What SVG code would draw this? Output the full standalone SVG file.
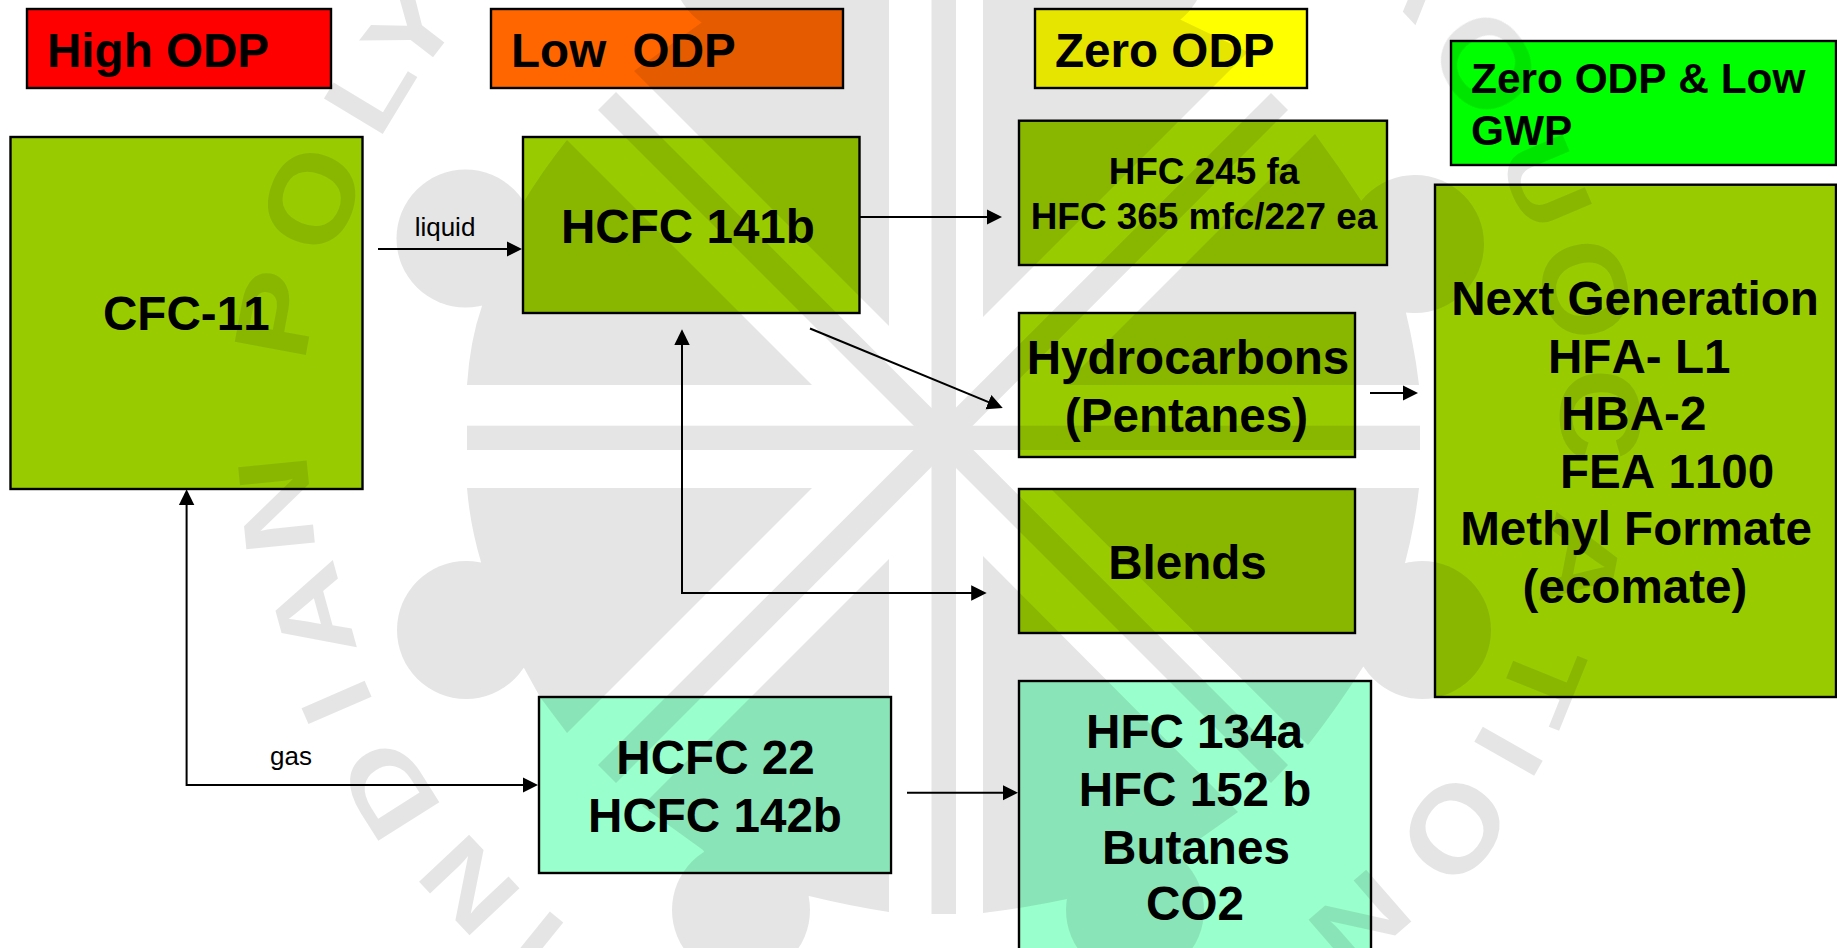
<svg xmlns="http://www.w3.org/2000/svg" width="1837" height="948" viewBox="0 0 1837 948">
<style>
text{font-family:"Liberation Sans",Arial,sans-serif;fill:#000;white-space:pre;font-kerning:none}
.b{font-weight:700;font-size:47.6px}
.m{text-anchor:middle}
.s{font-size:36.9px}
.g{font-size:42.4px}
.l{font-size:26px}
.box{stroke:#000;stroke-width:2.4}
.c{fill:none;stroke:#000;stroke-width:2}
.w text{font-weight:700;font-size:100px;text-anchor:middle;fill:#000}
</style>
<defs>
<marker id="arrow" markerUnits="userSpaceOnUse" markerWidth="16" markerHeight="16" refX="12" refY="8" orient="auto">
<path d="M0,0.3 L15.5,8 L0,15.7 Z" fill="#000"/>
</marker>
</defs>
<rect width="1837" height="948" fill="#fff"/>
<g id="legend-high"><rect class="box" x="27" y="9" width="304" height="79" fill="#ff0000"/><text class="b" x="47" y="66.7">High ODP</text></g>
<g id="legend-low"><rect class="box" x="491" y="9" width="352" height="79" fill="#ff6600"/><text class="b" x="511" y="66.7">Low  ODP</text></g>
<g id="legend-zero"><rect class="box" x="1035" y="9" width="272" height="79" fill="#ffff00"/><text class="b" x="1055" y="66.7">Zero ODP</text></g>
<g id="legend-zero-low-gwp"><rect class="box" x="1451" y="41" width="385" height="124" fill="#00ff00"/><text class="b g" x="1471" y="93">Zero ODP &amp; Low</text><text class="b g" x="1471" y="144.5">GWP</text></g>
<g id="cfc11"><rect class="box" x="10.5" y="137" width="352" height="352" fill="#99cc00"/><text class="b" x="103" y="330">CFC-11</text></g>
<g id="hcfc141b"><rect class="box" x="523" y="137" width="336.500" height="176" fill="#99cc00"/><text class="b" x="561" y="242.700">HCFC 141b</text></g>
<g id="hfc245"><rect class="box" x="1019" y="120.700" width="368" height="144.300" fill="#99cc00"/><text class="b s m" x="1204" y="183.500">HFC 245 fa</text><text class="b s m" x="1204" y="228.500">HFC 365 mfc/227 ea</text></g>
<g id="hydrocarbons"><rect class="box" x="1019" y="313" width="336" height="144" fill="#99cc00"/><text class="b m" x="1188" y="373.500">Hydrocarbons</text><text class="b m" x="1186.500" y="431.700">(Pentanes)</text></g>
<g id="blends"><rect class="box" x="1019" y="489" width="336" height="144" fill="#99cc00"/><text class="b m" x="1187.500" y="578.800">Blends</text></g>
<g id="next-generation"><rect class="box" x="1435" y="184.700" width="401" height="512.300" fill="#99cc00"/><text class="b m" x="1635" y="315">Next Generation</text><text class="b" x="1548" y="372.700">HFA- L1</text><text class="b" x="1561" y="430">HBA-2</text><text class="b" x="1560" y="488.300">FEA 1100</text><text class="b m" x="1636" y="545">Methyl Formate</text><text class="b m" x="1635" y="603">(ecomate)</text></g>
<g id="hcfc22"><rect class="box" x="539" y="697" width="352" height="176" fill="#99ffcc"/><text class="b m" x="715.500" y="774">HCFC 22</text><text class="b m" x="715" y="831.700">HCFC 142b</text></g>
<g id="hfc134a"><rect class="box" x="1019" y="681" width="352" height="280" fill="#99ffcc"/><text class="b m" x="1194.500" y="748.300">HFC 134a</text><text class="b m" x="1195" y="805.500">HFC 152 b</text><text class="b m" x="1196" y="863.800">Butanes</text><text class="b m" x="1195" y="920">CO2</text></g>
<g id="connectors">
<path class="c" marker-end="url(#arrow)" d="M378,249 L518.500,249"/>
<path class="c" marker-end="url(#arrow)" d="M860,217 L998.500,217"/>
<path class="c" marker-end="url(#arrow)" d="M810,328.500 L999.500,406.700"/>
<path class="c" marker-end="url(#arrow)" d="M1370,393 L1414.500,393"/>
<path class="c" marker-end="url(#arrow)" d="M682,340 L682,593 L983.200,593"/>
<path class="c" marker-end="url(#arrow)" d="M186.600,500 L186.600,785 L534.500,785"/>
<path class="c" marker-end="url(#arrow)" d="M907,792.700 L1014.500,792.700"/>
<path d="M682,329.300 L689.700,345 L674.300,345 Z" fill="#000"/>
<path d="M186.600,489.300 L194.300,505 L178.900,505 Z" fill="#000"/>
<text class="l" x="445" y="236" text-anchor="middle">liquid</text>
<text class="l" x="291" y="765" text-anchor="middle">gas</text>
</g>
<g id="watermark" class="w" opacity="0.105">
<circle cx="465.500" cy="238.500" r="69"/><circle cx="466" cy="630" r="69"/><circle cx="1415" cy="244" r="69"/><circle cx="1422" cy="630" r="69"/><circle cx="741" cy="910" r="69"/><circle cx="1135" cy="910" r="69"/><circle cx="741" cy="-34" r="69"/><circle cx="1137" cy="-34" r="69"/>
<path d="M889,-5 L889,326 L634,71 L701,23 L741,-5 Z"/>
<path d="M983,-5 L983,317 L1248,52 L1179,19 L1137,-5 Z"/>
<path d="M467,385 Q470,340 482,306 L465,238 L523,203 Q543,170 567,140 L812,385 Z"/>
<path d="M467,488 L812,488 L567,733 L540,697 L524,668 L466,630 L481,562 Q470,525 467,488 Z"/>
<path d="M1419,385 L1064,385 L1315,134 Q1340,168 1362,202 L1415,244 L1406,313 Q1415,350 1419,385 Z"/>
<path d="M1419,488 L1050,488 L1308,745 Q1337,708 1363,667 L1422,630 L1405,563 Q1415,525 1419,488 Z"/>
<path d="M889,559 L642,806 L703,850 L741,910 L809,896 Q850,906 889,912 Z"/>
<path d="M983,556 L1238,812 L1177,855 L1135,910 L1067,899 Q1025,908 983,913 Z"/>
<rect x="931.500" y="-5" width="24.500" height="919"/>
<rect x="467" y="425.700" width="953" height="24.300"/>
<polygon points="616,92 598,110 1271,783 1288,765"/>
<polygon points="1271,93 1288,110 616,783 598,765"/>
<text transform="translate(534,945) rotate(-141) scale(1.2,1)" y="36">I</text>
<text transform="translate(468,886) rotate(-133.300) scale(1.25,1)" y="36">N</text>
<text transform="translate(387,790) rotate(-122.300) scale(1.3,1.05)" y="36">D</text>
<text transform="translate(335,703) rotate(-113.500) scale(1.2,1)" y="36">I</text>
<text transform="translate(310,613) rotate(-105.400) scale(1.35,1)" y="36">A</text>
<text transform="translate(275,505) rotate(-95.700) scale(1.4,1)" y="36">N</text>
<text transform="translate(275,314) rotate(-79.500) scale(1.3,1.05)" y="36">P</text>
<text transform="translate(310,198) rotate(-69) scale(1.3,1.2)" y="36">O</text>
<text transform="translate(368,89) rotate(-58.800) scale(1.3,1)" y="36">L</text>
<text transform="translate(410,28) rotate(-52.500) scale(1.3,1)" y="36">Y</text>
<text transform="translate(1412,-31) rotate(47) scale(1.3,1)" y="36">A</text>
<text transform="translate(1487,63) rotate(55.400) scale(1.3,1.2)" y="36">O</text>
<text transform="translate(1547,182) rotate(67) scale(1.25,1)" y="36">U</text>
<text transform="translate(1587,289) rotate(77) scale(1.3,1.2)" y="36">O</text>
<text transform="translate(1602,415) rotate(88) scale(1.3,1.15)" y="36">C</text>
<text transform="translate(1583,563) rotate(101) scale(1.35,1)" y="36">A</text>
<text transform="translate(1543,683) rotate(112) scale(1.3,1)" y="36">T</text>
<text transform="translate(1510,752) rotate(119.500) scale(1.2,1)" y="36">I</text>
<text transform="translate(1456,830) rotate(127.400) scale(1.3,1.2)" y="36">O</text>
<text transform="translate(1361,922) rotate(139) scale(1.3,1)" y="36">N</text>
</g>
</svg>
